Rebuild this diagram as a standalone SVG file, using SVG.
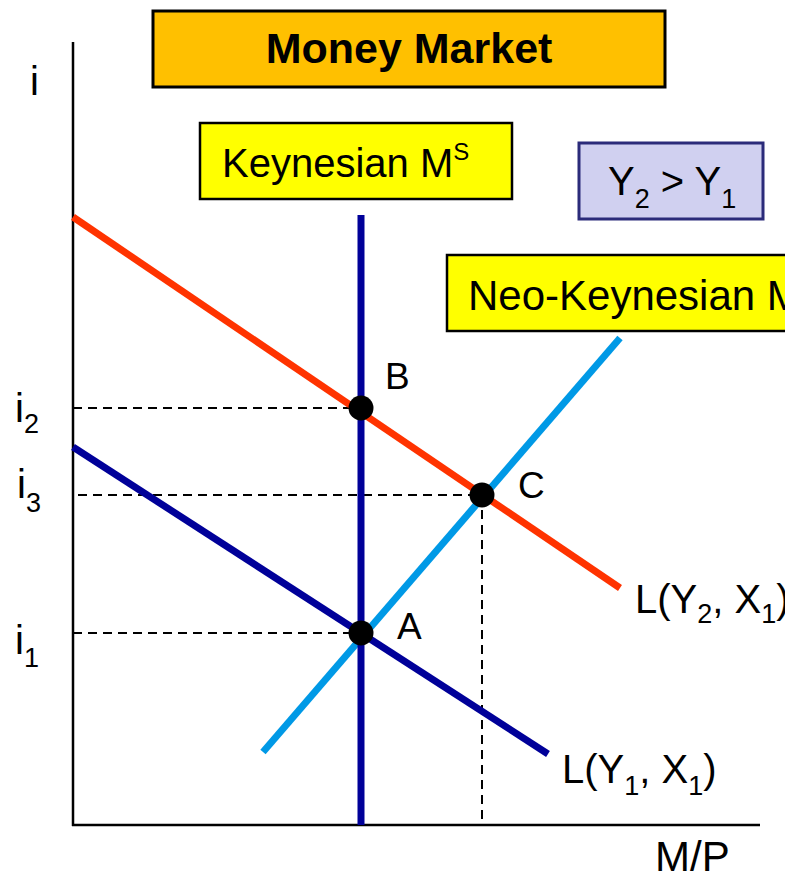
<svg xmlns="http://www.w3.org/2000/svg" width="785" height="885" viewBox="0 0 785 885">
<style>
text{font-family:"Liberation Sans",Arial,sans-serif;fill:#000}
.lbl{font-size:40px}
.sub{font-size:27px}
.pt{font-size:37px}
.dash{stroke:#000;stroke-width:2;stroke-dasharray:9 6;fill:none}
.axis{stroke:#000;stroke-width:2.5;fill:none}
.curve{stroke-width:7;fill:none}
.dot{fill:#000}
</style>
<rect width="785" height="885" fill="#fff"/>
<g id="axes">
<line class="axis" x1="73" y1="42" x2="73" y2="826"/>
<line class="axis" x1="72" y1="825" x2="760" y2="825"/>
<text class="lbl" x="30" y="95">i</text>
<text x="655" y="871" font-size="42">M/P</text>
</g>
<g id="connectors">
<line class="dash" x1="73" y1="408" x2="360" y2="408"/>
<line class="dash" x1="78" y1="495" x2="481" y2="495"/>
<line class="dash" x1="73" y1="633" x2="360" y2="633"/>
<line class="dash" x1="482" y1="495" x2="482" y2="825"/>
<line class="curve" stroke="#0099E6" x1="263" y1="752" x2="620" y2="338"/>
<line class="curve" stroke="#000099" x1="73" y1="447" x2="548" y2="754"/>
<line class="curve" stroke="#FF3300" x1="73" y1="217" x2="620" y2="588"/>
<line class="curve" stroke="#000099" x1="361" y1="215" x2="361" y2="825"/>
</g>
<g id="title">
<rect x="153" y="11" width="512" height="76" fill="#FFC000" stroke="#000" stroke-width="3"/>
<text x="409" y="63" text-anchor="middle" font-weight="bold" font-size="43">Money Market</text>
</g>
<g id="keynesian-ms">
<rect x="200" y="123" width="312" height="76" fill="#FFFF00" stroke="#000" stroke-width="2.5"/>
<text class="lbl" x="222" y="177" font-size="42">Keynesian M<tspan font-size="24" dy="-17">S</tspan></text>
</g>
<g id="y-compare">
<rect x="579" y="143" width="184" height="76" fill="#D0D0F0" stroke="#2B2B7A" stroke-width="3"/>
<text class="lbl" x="608" y="195">Y<tspan class="sub" dy="13">2</tspan><tspan dy="-13"> &gt; Y</tspan><tspan class="sub" dy="13">1</tspan></text>
</g>
<g id="neo-keynesian-ms">
<rect x="447" y="255" width="360" height="76" fill="#FFFF00" stroke="#000" stroke-width="2.5"/>
<text x="468" y="310" font-size="42">Neo-Keynesian M<tspan font-size="24" dy="-17">S</tspan></text>
</g>
<g id="i-labels">
<text class="lbl" x="15" y="422">i<tspan class="sub" dy="11">2</tspan></text>
<text class="lbl" x="17" y="498">i<tspan class="sub" dy="14">3</tspan></text>
<text class="lbl" x="15" y="654">i<tspan class="sub" dy="13">1</tspan></text>
</g>
<g id="point-B">
<circle class="dot" cx="361" cy="408" r="12.5"/>
<text class="pt" x="385" y="389">B</text>
</g>
<g id="point-C">
<circle class="dot" cx="482" cy="495" r="12.5"/>
<text class="pt" x="518" y="498">C</text>
</g>
<g id="point-A">
<circle class="dot" cx="361" cy="633" r="12.5"/>
<text class="pt" x="397" y="639">A</text>
</g>
<g id="label-LY2">
<text class="lbl" x="635" y="613">L(Y<tspan class="sub" dy="10">2</tspan><tspan dy="-10">, X</tspan><tspan class="sub" dy="10">1</tspan><tspan dy="-10">)</tspan></text>
</g>
<g id="label-LY1">
<text class="lbl" x="562" y="783">L(Y<tspan class="sub" dy="12">1</tspan><tspan dy="-12">, X</tspan><tspan class="sub" dy="12">1</tspan><tspan dy="-12">)</tspan></text>
</g>
</svg>
